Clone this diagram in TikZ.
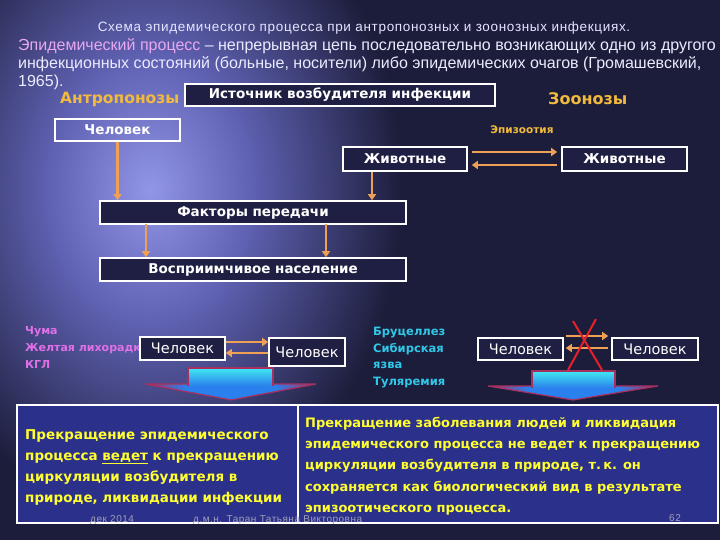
\documentclass[tikz,border=0pt]{standalone}
\usepackage{fontspec}
\setmainfont{Liberation Sans}
\newfontfamily\dvs{DejaVu Sans}
\newfontfamily\titlefont[LetterSpace=5]{Liberation Sans}
\usetikzlibrary{arrows.meta}
\definecolor{bg}{HTML}{1C1D3A}
\definecolor{glowc}{HTML}{9296E6}
\definecolor{glowm}{HTML}{6062B4}
\definecolor{boxbg}{HTML}{1E1F42}
\definecolor{panel}{HTML}{2B308A}
\definecolor{orangea}{HTML}{F0A055}
\definecolor{gold}{HTML}{F2BA3C}
\definecolor{pinkt}{HTML}{E070E8}
\definecolor{lilac}{HTML}{E8A8F0}
\definecolor{cyant}{HTML}{30C8E8}
\definecolor{yel}{HTML}{FFFF30}
\definecolor{xred}{HTML}{E8202A}
\definecolor{foot}{HTML}{A0A0B8}
\definecolor{cyanb}{HTML}{40E8F2}
\definecolor{blueb}{HTML}{2A80EC}
\definecolor{rededge}{HTML}{A83060}
\pgfdeclareradialshading{glow}{\pgfpoint{0bp}{0bp}}{color(0bp)=(glowc); color(9bp)=(glowm); color(23bp)=(bg); color(50bp)=(bg)}
\pgfdeclarehorizontalshading{headsh}{100bp}{color(0bp)=(rededge); color(25bp)=(rededge); color(37bp)=(blueb); color(63bp)=(blueb); color(75bp)=(rededge); color(100bp)=(rededge)}
\newcommand\mylbl{\dvs\bfseries\fontsize{13.5}{16}\selectfont}
\begin{document}
\begin{tikzpicture}[x=1pt,y=-1pt,
  box/.style={draw=white, line width=1.6pt, fill=boxbg, inner sep=0pt, text=white, font=\mylbl},
  hbox/.style={box, font=\dvs\fontsize{14.5}{16}\selectfont},
  oarrow/.style={draw=orangea, line width=2.5pt, -{Triangle[width=8pt,length=6pt]}},
  para/.style={anchor=base west, inner sep=0pt, text=white!92!blue, font=\fontsize{16}{18}\selectfont},
  panelbox/.style={draw=white, line width=1.6pt, fill=panel},
  yeltext/.style={anchor=north west, inner sep=0pt, align=left, text=yel},
  blockbody/.style={top color=cyanb, bottom color=blueb, draw=rededge, line width=1.2pt},
  blockhead/.style={shading=headsh, draw=rededge, line width=1.2pt},
  foottext/.style={anchor=base west, inner sep=0pt, text=foot, font=\titlefont\fontsize{10}{10}\selectfont}
]
\useasboundingbox (0,0) rectangle (720,540);
\fill[bg] (0,0) rectangle (720,540);
\shade[shading=glow] (150,190) ellipse (275 and 360);

% bottom panels
\draw[panelbox] (17,405) rectangle (298,523);
\draw[panelbox] (298,405) rectangle (718,523);

% title and paragraph
\node[anchor=base, inner sep=0pt, text=white!90!blue, font=\titlefont\fontsize{13.5}{14}\selectfont] (title) at (364,32) {Схема эпидемического процесса при антропонозных и зоонозных инфекциях.};
\node[para] (p1) at (18,51) {\textcolor{lilac}{Эпидемический процесс} – непрерывная цепь последовательно возникающих одно из другого};
\node[para] (p2) at (18,69) {инфекционных состояний (больные, носители) либо эпидемических очагов (Громашевский,};
\node[para] (p3) at (18,87) {1965).};

\node[anchor=base west, inner sep=0pt, text=gold, font=\dvs\bfseries\fontsize{15.5}{18}\selectfont] (antr) at (60,104) {Антропонозы};
\node[anchor=base west, inner sep=0pt, text=gold, font=\dvs\bfseries\fontsize{16}{18}\selectfont] (zoo) at (548,105) {Зоонозы};

% top boxes
\node[box, minimum width=310, minimum height=22] (src) at (340,95) {Источник возбудителя инфекции};
\node[box, fill=none, minimum width=125, minimum height=22] (hum) at (117.5,130) {Человек};
\node[anchor=center, inner sep=0pt, text=gold, font=\dvs\bfseries\fontsize{10.5}{12}\selectfont] (epiz) at (522,130) {Эпизоотия};
\node[box, minimum width=124, minimum height=24] (an1) at (405,159) {Животные};
\node[box, minimum width=125, minimum height=24] (an2) at (624.5,159) {Животные};
\node[box, minimum width=306, minimum height=23] (fac) at (253,212.5) {Факторы передачи};
\node[box, minimum width=306, minimum height=23] (sus) at (253,269.5) {Восприимчивое население};

% arrows top part
\draw[oarrow] (hum.south) -- (hum.south |- fac.north);
\coordinate (a1) at ([xshift=-33pt]an1.south);
\draw[oarrow] (a1) -- (a1 |- fac.north);
\coordinate (f1) at (146,224);
\coordinate (f2) at (326,224);
\draw[oarrow] (f1) -- (f1 |- sus.north);
\draw[oarrow] (f2) -- (f2 |- sus.north);
\coordinate (e1) at ([xshift=4pt,yshift=7pt]an1.east);
\coordinate (e2) at ([xshift=-4pt,yshift=-6pt]an2.west);
\draw[oarrow] (e1) -- (e1 -| e2);
\draw[oarrow] (e2) -- (e2 -| e1);

% lower left part
\node[anchor=north west, inner sep=0pt, align=left, text=pinkt, font=\dvs\bfseries\fontsize{11}{17}\selectfont] (listl) at (25,326) {Чума\\Желтая лихорадка\\КГЛ};
\node[hbox, minimum width=85, minimum height=23] (h2) at (182.5,348.5) {Человек};
\node[hbox, minimum width=76, minimum height=28] (h3) at (307,352) {Человек};
\coordinate (b1) at (h2.east |- 0,342);
\coordinate (b2) at (h3.west |- 0,353);
\draw[oarrow] (b1) -- (b1 -| b2);
\draw[oarrow] (b2) -- (b2 -| b1);

% lower right part
\node[anchor=north west, inner sep=0pt, align=left, text=cyant, font=\dvs\bfseries\fontsize{11.5}{16.5}\selectfont] (listr) at (373,327) {Бруцеллез\\Сибирская\\язва\\Туляремия};
\node[hbox, minimum width=85, minimum height=22] (h4) at (520.5,349) {Человек};
\node[hbox, minimum width=86, minimum height=22] (h5) at (655,349) {Человек};
\coordinate (c1) at ([xshift=2pt]h4.east |- 0,336);
\coordinate (c2) at ([xshift=-3pt]h5.west |- 0,348);
\draw[oarrow] (c1) -- (c1 -| c2);
\draw[oarrow] (c2) -- (c2 -| c1);
\coordinate (x1) at (573,321);
\coordinate (x2) at (602,370);
\coordinate (x3) at (596,319);
\coordinate (x4) at (568,370);
\draw[xred, line width=2pt] (x1) -- (x2);
\draw[xred, line width=2pt] (x3) -- (x4);

% block arrows
\shade[blockhead] (145,384) -- (316,384) -- (231,400) -- cycle;
\shade[blockbody] (188,386) -- (188,368) -- (273,368) -- (273,386);
\shade[blockhead] (488,386) -- (658,386) -- (573,400) -- cycle;
\shade[blockbody] (532,388) -- (532,371) -- (615,371) -- (615,388);

% bottom texts
\node[yeltext, font=\dvs\bfseries\fontsize{13.5}{21.3}\selectfont] (tl) at (25,429) {Прекращение эпидемического\\процесса \underline{ведет} к прекращению\\циркуляции возбудителя в\\природе, ликвидации инфекции};
\node[yeltext, font=\dvs\bfseries\fontsize{13}{21.2}\selectfont] (tr) at (305,417) {Прекращение заболевания людей и ликвидация\\эпидемического процесса не ведет к прекращению\\циркуляции возбудителя в природе, т.\,к. он\\сохраняется как биологический вид в результате\\эпизоотического процесса.};

% footer
\node[foottext] (d1) at (90,522) {дек 2014};
\node[foottext] (d2) at (193,522) {д.м.н. Таран Татьяна Викторовна};
\node[foottext] (d3) at (669,521) {62};
\end{tikzpicture}
\end{document}
